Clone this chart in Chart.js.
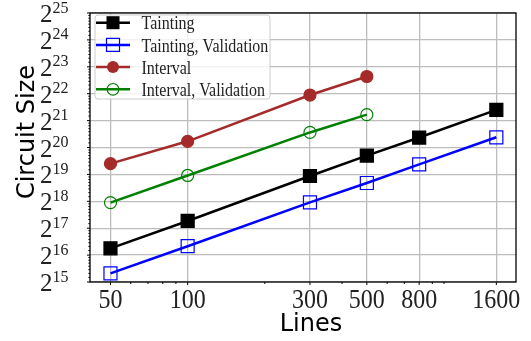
<!DOCTYPE html>
<html>
<head>
<meta charset="utf-8">
<script src="https://cdn.jsdelivr.net/npm/chart.js@4"></script>
<style>
  html, body { margin: 0; padding: 0; background: #fff; }
  #wrap { width: 531px; height: 341px; }
</style>
</head>
<body>
<div id="wrap"><canvas id="sizeChart" width="531" height="341"></canvas></div>
<script>
// data
const lines = [50, 100, 300, 500, 800, 1600];
const taintingSize = [78000, 158000, 503000, 852000, 1355000, 2768000];
const taintingValidationSize = [40900, 82400, 255000, 420000, 678000, 1364000];
const intervalSize = [692000, 1230000, 4052000, 6535000];
const intervalValidationSize = [253000, 510000, 1546000, 2443000];
const xTickValues = [50, 100, 300, 500, 800, 1600];
const xMinorTicks = [60, 70, 80, 90, 200, 400, 600, 700, 900, 1000];
const yExponents = [15, 16, 17, 18, 19, 20, 21, 22, 23, 24, 25];

const SERIF = '"Liberation Serif", "Times New Roman", serif';
const SANS = '"DejaVu Sans", sans-serif';

function pts(ys) {
  return ys.map((y, i) => ({ x: lines[i], y: y }));
}

function txt(ctx, s, x, y, font, align, sy, color) {
  ctx.save();
  ctx.font = font;
  ctx.textAlign = align;
  ctx.textBaseline = 'alphabetic';
  ctx.fillStyle = color || '#222';
  ctx.translate(x, y);
  ctx.scale(1, sy || 1);
  ctx.fillText(s, 0, 0);
  ctx.restore();
}

const series = [
  { label: 'Tainting', data: taintingSize, color: '#000000', style: 'rect', fill: true },
  { label: 'Tainting, Validation', data: taintingValidationSize, color: '#0000ff', style: 'rect', fill: false },
  { label: 'Interval', data: intervalSize, color: '#a52a2a', style: 'circle', fill: true },
  { label: 'Interval, Validation', data: intervalValidationSize, color: '#008000', style: 'circle', fill: false }
];

function marker(ctx, s, x, y) {
  ctx.save();
  ctx.strokeStyle = s.color;
  ctx.fillStyle = s.color;
  ctx.lineWidth = 1.2;
  ctx.beginPath();
  if (s.style === 'rect') ctx.rect(x - 6.5, y - 6.5, 13, 13);
  else ctx.arc(x, y, s.fill ? 6 : 5.8, 0, Math.PI * 2);
  if (s.fill) ctx.fill(); else ctx.stroke();
  ctx.restore();
}

const decor = {
  id: 'decor',
  afterDraw(chart) {
    const ctx = chart.ctx;
    const a = chart.chartArea;
    const xs = chart.scales.x, ys = chart.scales.y;

    // frame
    ctx.save();
    ctx.strokeStyle = '#000';
    ctx.lineWidth = 1.3;
    ctx.strokeRect(a.left, a.top, a.right - a.left, a.bottom - a.top);

    // x ticks
    ctx.lineWidth = 1;
    ctx.beginPath();
    xTickValues.forEach(v => { const p = xs.getPixelForValue(v); ctx.moveTo(p, a.bottom); ctx.lineTo(p, a.bottom + 3); });
    xMinorTicks.forEach(v => { const p = xs.getPixelForValue(v); ctx.moveTo(p, a.bottom); ctx.lineTo(p, a.bottom + 2); });
    // y ticks
    yExponents.forEach(n => {
      const p = ys.getPixelForValue(Math.pow(2, n));
      ctx.moveTo(a.left, p); ctx.lineTo(a.left - 3, p);
      if (n < 25) {
        for (let k = 1; k < 8; k++) {
          const q = ys.getPixelForValue(Math.pow(2, n) * (1 + k / 8));
          ctx.moveTo(a.left, q); ctx.lineTo(a.left - 1.6, q);
        }
      }
    });
    ctx.stroke();
    ctx.restore();

    // x tick labels
    xTickValues.forEach(v => {
      txt(ctx, String(v), xs.getPixelForValue(v), 308, '24px ' + SERIF, 'center', 1.1);
    });

    // y tick labels 2^n
    yExponents.forEach(n => {
      const p = ys.getPixelForValue(Math.pow(2, n));
      ctx.font = '16px ' + SERIF;
      const w = ctx.measureText(String(n)).width;
      txt(ctx, String(n), 68.5, p - 0.5, '16px ' + SERIF, 'right', 1.05);
      txt(ctx, '2', 68.5 - w, p + 9, '25px ' + SERIF, 'right', 1.0);
    });

    // axis titles
    txt(ctx, 'Lines', 311, 330.5, '24px ' + SANS, 'center', 1, '#000');
    ctx.save();
    ctx.translate(33.5, 132);
    ctx.rotate(-Math.PI / 2);
    txt(ctx, 'Circuit Size', 0, 0, '24px ' + SANS, 'center', 1, '#000');
    ctx.restore();

    // legend
    ctx.save();
    ctx.fillStyle = 'rgba(255,255,255,0.8)';
    ctx.strokeStyle = '#cccccc';
    ctx.lineWidth = 1;
    ctx.beginPath();
    ctx.roundRect(95, 15, 175, 84, 3);
    ctx.fill();
    ctx.stroke();
    ctx.restore();
    series.forEach((s, i) => {
      const cy = 22.7 + i * 22.2;
      ctx.save();
      ctx.strokeStyle = s.color;
      ctx.lineWidth = 2.5;
      ctx.beginPath();
      ctx.moveTo(96, cy);
      ctx.lineTo(130, cy);
      ctx.stroke();
      ctx.restore();
      marker(ctx, s, 113, cy);
      txt(ctx, s.label, 141.5, cy + 6.6, '16px ' + SERIF, 'left', 1.15);
    });
  }
};

new Chart(document.getElementById('sizeChart').getContext('2d'), {
  type: 'line',
  data: {
    datasets: series.map(s => ({
      label: s.label,
      data: pts(s.data),
      borderColor: s.color,
      backgroundColor: s.fill ? s.color : 'rgba(0,0,0,0)',
      borderWidth: 2.5,
      pointStyle: s.style,
      pointRadius: s.style === 'rect' ? 9.2 : 6,
      pointBorderWidth: 1.2,
      pointHoverRadius: s.style === 'rect' ? 9.2 : 6,
      tension: 0
    }))
  },
  options: {
    responsive: false,
    animation: false,
    events: [],
    layout: { padding: { top: 13, right: 15, left: 0, bottom: 0 } },
    plugins: { legend: { display: false }, tooltip: { enabled: false } },
    scales: {
      x: {
        type: 'logarithmic',
        min: 41.6,
        max: 1909,
        afterBuildTicks: s => { s.ticks = xTickValues.map(v => ({ value: v })); },
        afterFit: s => { s.height = 59; },
        ticks: { display: false },
        border: { display: false },
        grid: { color: '#bdbdbd', lineWidth: 1.3, drawTicks: false }
      },
      y: {
        type: 'logarithmic',
        min: Math.pow(2, 15),
        max: Math.pow(2, 25),
        afterBuildTicks: s => { s.ticks = yExponents.map(n => ({ value: Math.pow(2, n) })); },
        afterFit: s => { s.width = 90; },
        ticks: { display: false },
        border: { display: false },
        grid: { color: '#bdbdbd', lineWidth: 1.3, drawTicks: false }
      }
    }
  },
  plugins: [decor]
});
</script>
</body>
</html>
